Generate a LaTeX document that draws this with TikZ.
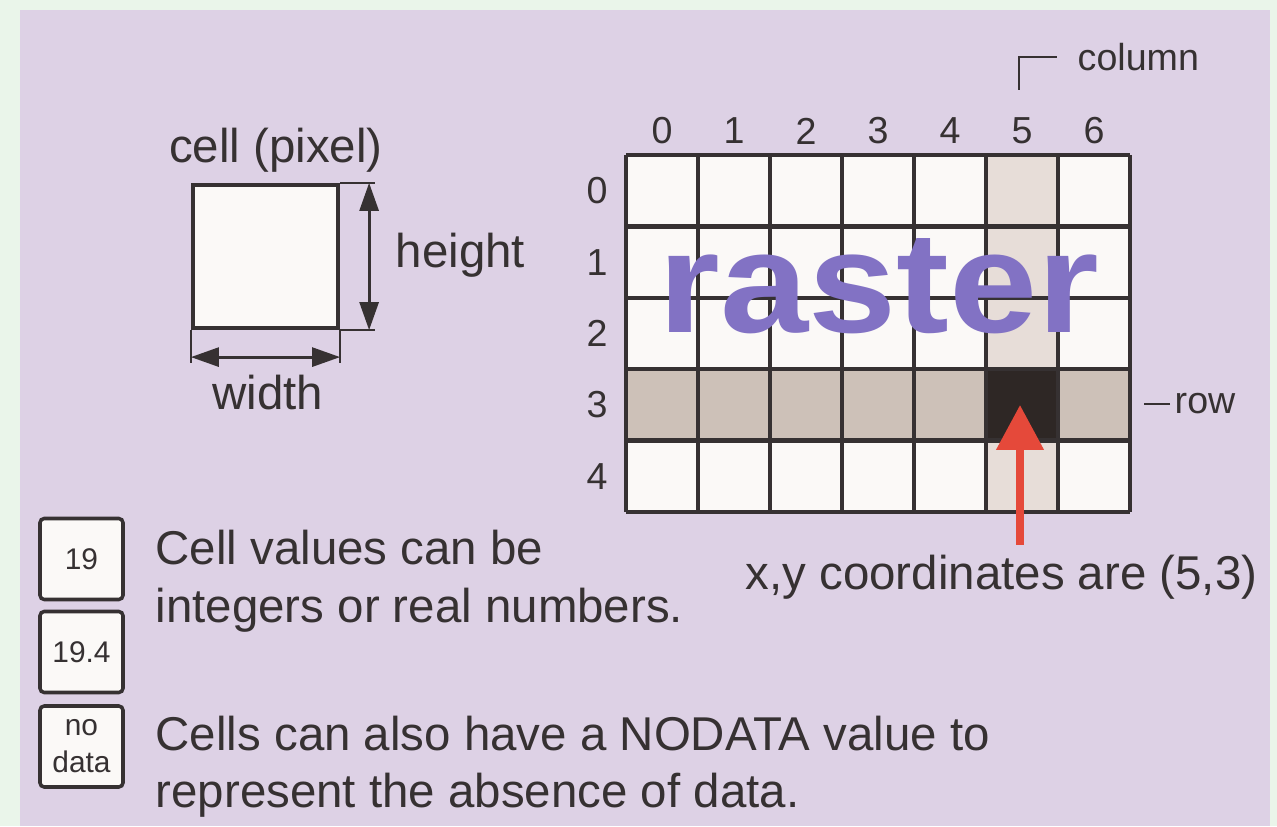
\documentclass[tikz,border=0pt]{standalone}
\usepackage{fontspec}
\setmainfont{Liberation Sans}
\usepackage{tikz}
\usetikzlibrary{arrows.meta,positioning}
\definecolor{bgGreen}{HTML}{EAF5EA}
\definecolor{panelLilac}{HTML}{DDD1E5}
\definecolor{inkGrey}{HTML}{363132}
\definecolor{cellWhite}{HTML}{FBF9F7}
\definecolor{colShade}{HTML}{E7DDD8}
\definecolor{rowShade}{HTML}{CDC1B8}
\definecolor{hitCell}{HTML}{2E2725}
\definecolor{rasterBlue}{HTML}{8272C4}
\definecolor{arrowRed}{HTML}{E5493A}

\begin{document}
\begin{tikzpicture}[
		txt/.style={text=inkGrey,inner sep=0pt,font=\fontsize{13.5}{16}\selectfont},
		numlbl/.style={text=inkGrey,inner sep=0pt,font=\fontsize{10.7}{12}\selectfont},
		valbox/.style={draw=inkGrey,line width=1pt,rounded corners=1.2pt,fill=cellWhite,
			minimum width=0.83cm,minimum height=0.81cm,inner sep=0pt,text=inkGrey,
			font=\fontsize{8.5}{10.5}\selectfont,align=center},
		dimline/.style={inkGrey,line width=0.4pt},
		dimarrow/.style={{Triangle[length=0.28cm,width=0.19cm]}-{Triangle[length=0.28cm,width=0.19cm]},
			inkGrey,line width=0.8pt}
	]
		
		\useasboundingbox (0,0) rectangle (12.77,8.26);
		\fill[bgGreen] (0,0) rectangle (12.77,8.26);
		\fill[panelLilac] (0.20,0) rectangle (12.70,8.16);
		
		% the raster grid
		\begin{scope}[shift={(6.26,3.14)},x=0.72cm,y=0.714cm]
			\fill[cellWhite] (0,0) rectangle (7,5);
			\fill[colShade] (5,0) rectangle (6,5);
			\fill[rowShade] (0,1) rectangle (7,2);
			\fill[hitCell] (5,1) rectangle (6,2);
			\draw[inkGrey,line width=1.3pt,xstep=1,ystep=1] (0,0) grid (7,5);
		\end{scope}
		
		\foreach \c in {0,...,6}
		\node[numlbl] (col\c) at (6.62+0.72*\c,6.95) {\c};
		\foreach \r in {0,...,4}
		\node[numlbl] (row\r) at (5.97,6.353-0.714*\r) {\r};
		
		\node[anchor=base west,inner sep=0pt,text=rasterBlue,xscale=1.1,
		font=\fontsize{41}{41}\selectfont\bfseries] (rasterword) at (6.58,4.93) {raster};
		
		% column and row tags
		\node[numlbl,anchor=west] (coltag) at (10.77,7.69) {column};
		\coordinate (colfoot) at (10.19,7.36);
		\coordinate (colbend) at (10.19,7.69);
		\draw[dimline,line width=0.6pt] (colfoot) -- (colbend) -- ([xshift=-0.2cm]coltag.west);
		
		\node[numlbl,anchor=west] (rowtag) at (11.74,4.22) {row};
		\draw[dimline,line width=0.6pt] ([xshift=-0.04cm]rowtag.west) -- ++(-0.26,0);
		
		% pointer to cell (5,3)
		\node[txt,anchor=base west] (coords) at (7.45,2.36) {x,y coordinates are (5,3)};
		\coordinate (ptrTail) at (10.20,2.81);
		\coordinate (ptrTip) at (10.20,4.21);
		\draw[-{Triangle[length=0.45cm,width=0.46cm]},arrowRed,line width=2.2pt]
		(ptrTail) -- (ptrTip);
		
		% one cell with its size
		\node[draw=inkGrey,line width=1.2pt,fill=cellWhite,minimum width=1.45cm,
		minimum height=1.43cm,inner sep=0pt] (pixel) at (2.655,5.695) {};
		\node[txt,anchor=base] (celltitle) at (2.76,6.63) {cell (pixel)};
		
		\draw[dimline] (pixel.north east) -- ++(0.35,0);
		\draw[dimline] (pixel.south east) -- ++(0.35,0);
		\coordinate (htop) at ([xshift=0.29cm]pixel.north east);
		\coordinate (hbot) at ([xshift=0.29cm]pixel.south east);
		\draw[dimarrow] (htop) -- (hbot);
		\node[txt,anchor=base west] (heightlbl) at (3.95,5.58) {height};
		
		\draw[dimline] (pixel.south west) -- ++(0,-0.33);
		\draw[dimline] (pixel.south east) -- ++(0,-0.33);
		\coordinate (wleft) at ([yshift=-0.27cm]pixel.south west);
		\coordinate (wright) at ([yshift=-0.27cm]pixel.south east);
		\draw[dimarrow] (wleft) -- (wright);
		\node[txt,anchor=base] (widthlbl) at (2.68,4.16) {width};
		
		% value boxes
		\node[valbox] (int19) at (0.815,2.67) {19};
		\node[valbox] (real194) at (0.815,1.74) {19.4};
		\node[valbox] (nodata) at (0.815,0.795) {no\\data};
		
		\node[txt,anchor=base west] (vals1) at (1.55,2.61) {Cell values can be};
		\node[txt,anchor=base west] (vals2) at ([yshift=-0.57cm]vals1.base west) {integers or real numbers.};
		\node[txt,anchor=base west] (nd1) at (1.55,0.76) {Cells can also have a NODATA value to};
		\node[txt,anchor=base west] (nd2) at ([yshift=-0.57cm]nd1.base west) {represent the absence of data.};
		
	\end{tikzpicture}
\end{document}
